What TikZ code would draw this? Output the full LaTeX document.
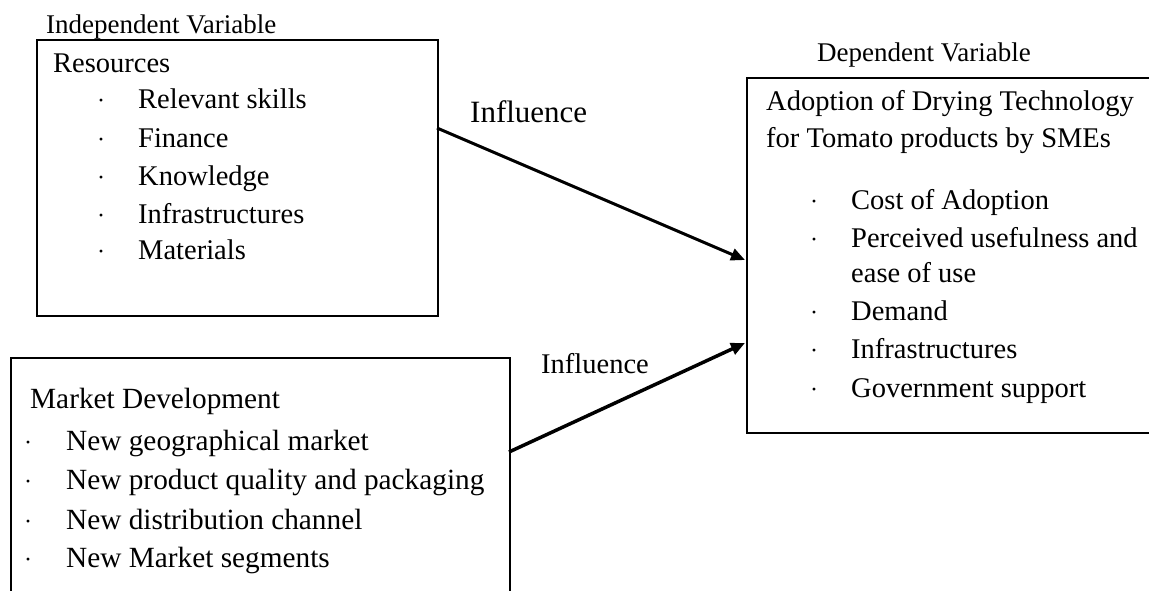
\documentclass[tikz,border=0pt]{standalone}
\usepackage{fontspec}
\setmainfont{Liberation Serif}
\usetikzlibrary{arrows.meta}
\tikzset{
  box/.style={draw, line width=2pt, inner sep=0pt, anchor=north west},
  txt/.style={anchor=base west, inner sep=0pt, font=\fontsize{28.5}{34}\selectfont},
  txtb/.style={anchor=base west, inner sep=0pt, font=\fontsize{29.3}{35}\selectfont},
  lab/.style={anchor=base west, inner sep=0pt, font=\fontsize{27}{30}\selectfont},
  bul/.style={anchor=base west, inner sep=0pt, font=\fontsize{24}{30}\selectfont},
  arr/.style={line width=3pt, -{Triangle[length=14pt,width=12pt]}}
}
\begin{document}
\begin{tikzpicture}[x=1pt,y=-1pt]
\useasboundingbox (0,0) rectangle (1149,590);
\clip (0,0) rectangle (1149,590);
% boxes
\node[box, minimum width=401pt, minimum height=276pt] (res) at (36,39) {};
\node[box, minimum width=499pt, minimum height=260pt] (mkt) at (10,357) {};
\node[box, minimum width=420pt, minimum height=355pt] (adp) at (746,77) {};
% labels
\node[lab] (indep) at (46,33) {Independent Variable};
\node[lab] (dep) at (817,61) {Dependent Variable};
% Resources
\node[txt] (r0) at (53,72) {Resources};
\foreach \y/\t [count=\i] in {108/Relevant skills,147/Finance,185/Knowledge,223/Infrastructures,259/Materials}{
  \node[bul] (rb\i) at (97,\y) {·};
  \node[txt] (r\i) at (138,\y) {\t};
}
% Market development
\node[txtb] (m0) at (30,408) {Market Development};
\foreach \y/\t [count=\i] in {450/New geographical market,489/New product quality and packaging,529/New distribution channel,567/New Market segments}{
  \node[bul] (mb\i) at (24,\y) {·};
  \node[txtb] (m\i) at (66,\y) {\t};
}
% Adoption
\node[txt] (a0) at (766,110) {Adoption of Drying Technology};
\node[txt] (a00) at (766,147) {for Tomato products by SMEs};
\foreach \y/\t [count=\i] in {209/Cost of Adoption,247/Perceived usefulness and,320/Demand,358/Infrastructures,397/Government support}{
  \node[bul] (ab\i) at (810,\y) {·};
  \node[txt] (a\i) at (851,\y) {\t};
}
\node[txt] (aeu) at (851,282) {ease of use};
% influence labels
\node[anchor=base west, inner sep=0pt, font=\fontsize{31}{36}\selectfont] (inf1) at (470,122) {Influence};
\node[txt] (inf2) at (541,373) {Influence};
% arrows
\coordinate (s1) at (437,128);
\coordinate (e1) at (745,260);
\coordinate (s2) at (509,452);
\coordinate (e2) at (745,343);
\draw[arr] (s1) -- (e1);
\draw[arr, line width=3.5pt] (s2) -- (e2);
\end{tikzpicture}
\end{document}
